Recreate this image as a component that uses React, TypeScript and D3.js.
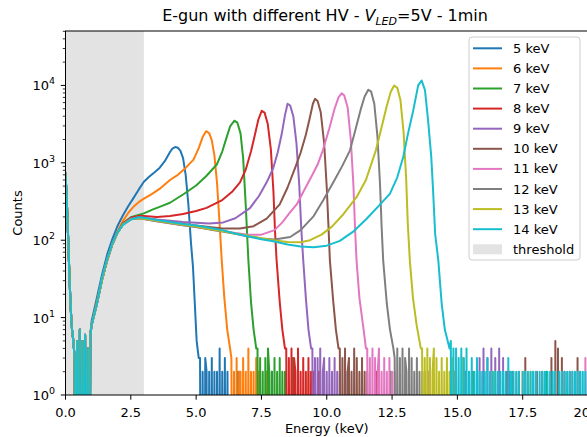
import React from 'react';
import * as d3 from 'd3';

type P = [number, number];

const labels = ['5 keV', '6 keV', '7 keV', '8 keV', '9 keV', '10 keV', '11 keV', '12 keV', '13 keV', '14 keV'];
const colors = ['#1f77b4', '#ff7f0e', '#2ca02c', '#d62728', '#9467bd', '#8c564b', '#e377c2', '#7f7f7f', '#bcbd22', '#17becf'];
const xTicks = [0, 2.5, 5, 7.5, 10, 12.5, 15, 17.5, 20];
const yDecades = [0, 1, 2, 3, 4];
const thresholdRange = [0, 3];

// common detector-noise region (0 - 1 keV)
const lowPart: P[] = [[0, 750], [0.05, 320], [0.1, 110], [0.15, 35], [0.2, 13], [0.25, 7], [0.3, 5], [0.35, 3], [0.4, 0], [0.45, 5], [0.5, 0], [0.55, 7], [0.6, 0], [0.65, 5], [0.7, 0], [0.75, 6], [0.8, 0], [0.85, 4], [0.9, 0], [0.95, 6]];

const bulk5: P[] = [[1.0, 9], [1.2, 18], [1.4, 36], [1.6, 66], [1.8, 105], [2.0, 155], [2.2, 210], [2.4, 275], [2.6, 350], [2.8, 450], [3.0, 570], [3.2, 660], [3.4, 750], [3.6, 860], [3.8, 1050], [4.0, 1380], [4.1, 1540], [4.2, 1600], [4.3, 1570], [4.4, 1430], [4.5, 1150], [4.6, 700], [4.7, 300], [4.8, 95], [4.88, 45], [4.95, 15], [5.02, 5], [5.1, 3]];
const bulk6: P[] = [[1.0, 8], [1.2, 16], [1.4, 32], [1.6, 58], [1.8, 92], [2.0, 132], [2.2, 178], [2.4, 225], [2.6, 270], [2.8, 310], [3.0, 345], [3.3, 395], [3.6, 460], [4.0, 600], [4.3, 700], [4.6, 860], [4.9, 1100], [5.1, 1550], [5.25, 2150], [5.38, 2560], [5.5, 2420], [5.6, 1950], [5.7, 1250], [5.8, 550], [5.9, 160], [5.98, 55], [6.08, 18], [6.19, 7], [6.3, 4]];
const bulk7: P[] = [[1.0, 8], [1.2, 15], [1.4, 31], [1.6, 56], [1.8, 90], [2.0, 128], [2.2, 165], [2.5, 198], [2.8, 212], [3.0, 222], [3.35, 250], [3.7, 278], [4.0, 305], [4.5, 390], [5.0, 510], [5.4, 680], [5.79, 950], [6.0, 1400], [6.17, 2150], [6.3, 2950], [6.46, 3500], [6.58, 3300], [6.7, 2400], [6.8, 1150], [6.9, 280], [7.0, 55], [7.1, 16], [7.2, 7], [7.3, 4]];
const bulk8: P[] = [[1.0, 8], [1.2, 15], [1.4, 31], [1.6, 56], [1.8, 90], [2.0, 128], [2.2, 165], [2.5, 195], [2.8, 205], [3.0, 205], [3.5, 200], [4.0, 205], [4.5, 218], [5.0, 238], [5.4, 262], [6.0, 330], [6.4, 430], [6.68, 560], [6.9, 820], [7.1, 1400], [7.25, 2300], [7.38, 3600], [7.51, 4700], [7.62, 4450], [7.74, 3200], [7.86, 1500], [7.96, 420], [8.02, 130], [8.08, 55], [8.2, 16], [8.3, 7], [8.4, 4]];
const bulk9: P[] = [[1.0, 8], [1.2, 15], [1.4, 31], [1.6, 56], [1.8, 90], [2.0, 126], [2.2, 162], [2.5, 190], [2.8, 198], [3.0, 195], [3.5, 185], [4.0, 178], [4.5, 172], [5.0, 168], [5.5, 165], [6.04, 170], [6.5, 192], [7.06, 260], [7.4, 370], [7.7, 560], [7.95, 850], [8.12, 1350], [8.27, 2300], [8.4, 4100], [8.5, 5800], [8.6, 5500], [8.72, 4000], [8.84, 1800], [8.95, 500], [9.02, 150], [9.1, 55], [9.2, 18], [9.3, 7], [9.4, 4]];
const bulk10: P[] = [[1.0, 8], [1.2, 15], [1.4, 31], [1.6, 56], [1.8, 90], [2.0, 126], [2.2, 160], [2.5, 188], [2.8, 195], [3.0, 190], [3.5, 180], [4.0, 170], [4.5, 162], [5.0, 155], [5.5, 148], [6.0, 142], [6.68, 142], [7.2, 152], [7.7, 190], [8.2, 290], [8.5, 480], [8.8, 880], [9.0, 1350], [9.2, 2300], [9.35, 3800], [9.47, 5800], [9.55, 6700], [9.65, 6300], [9.77, 4500], [9.9, 1800], [10.0, 480], [10.07, 140], [10.12, 55], [10.25, 16], [10.35, 7], [10.45, 4]];
const bulk11: P[] = [[1.0, 8], [1.2, 15], [1.4, 31], [1.6, 56], [1.8, 90], [2.0, 126], [2.2, 160], [2.5, 186], [2.8, 192], [3.0, 188], [3.5, 176], [4.0, 165], [4.5, 156], [5.0, 148], [5.5, 140], [6.0, 132], [6.5, 124], [7.0, 118], [7.5, 118], [8.0, 135], [8.3, 170], [8.6, 230], [8.85, 290], [9.1, 420], [9.4, 650], [9.65, 950], [9.85, 1450], [10.1, 2800], [10.3, 5000], [10.45, 7000], [10.57, 7900], [10.67, 7400], [10.8, 5200], [10.92, 2000], [11.02, 520], [11.08, 150], [11.14, 55], [11.25, 18], [11.4, 7.5], [11.5, 4]];
const bulk12: P[] = [[1.0, 8], [1.2, 15], [1.4, 31], [1.6, 56], [1.8, 90], [2.0, 126], [2.2, 160], [2.5, 186], [2.8, 192], [3.0, 188], [3.5, 176], [4.0, 165], [4.5, 156], [5.0, 148], [5.5, 138], [6.0, 130], [6.5, 121], [7.0, 112], [7.5, 105], [8.0, 102], [8.6, 110], [9.0, 135], [9.5, 205], [9.87, 330], [10.3, 600], [10.6, 920], [10.89, 1450], [11.1, 2700], [11.3, 4900], [11.45, 7200], [11.59, 8800], [11.7, 8300], [11.82, 5800], [11.94, 2200], [12.04, 520], [12.1, 150], [12.16, 55], [12.3, 15], [12.42, 7], [12.55, 4]];
const bulk13: P[] = [[1.0, 8], [1.2, 15], [1.4, 31], [1.6, 56], [1.8, 90], [2.0, 126], [2.2, 160], [2.5, 186], [2.8, 194], [3.0, 190], [3.5, 178], [4.0, 168], [4.5, 158], [5.0, 150], [5.5, 140], [6.0, 131], [6.5, 122], [7.0, 114], [7.5, 106], [8.0, 99], [8.5, 95], [9.0, 94], [9.36, 100], [9.8, 118], [10.2, 150], [10.6, 210], [11.14, 360], [11.5, 600], [11.88, 1450], [12.09, 2800], [12.29, 5300], [12.45, 8300], [12.58, 10000], [12.7, 9300], [12.82, 6500], [12.94, 2500], [13.04, 620], [13.1, 170], [13.18, 55], [13.3, 18], [13.44, 8], [13.6, 4]];
const bulk14: P[] = [[1.0, 8], [1.2, 15], [1.4, 33], [1.6, 58], [1.8, 92], [2.0, 128], [2.2, 158], [2.5, 185], [2.8, 198], [3.0, 195], [3.5, 182], [4.0, 172], [4.5, 162], [5.0, 155], [5.5, 145], [6.0, 135], [6.5, 122], [7.0, 112], [7.5, 103], [8.0, 96], [8.5, 88], [9.0, 83], [9.5, 81], [10.0, 85], [10.5, 98], [11.0, 128], [11.5, 185], [12.0, 280], [12.42, 400], [12.7, 650], [12.93, 1200], [13.1, 2300], [13.31, 4750], [13.5, 10000], [13.63, 11600], [13.76, 8700], [13.88, 3500], [14.0, 1200], [14.07, 440], [14.15, 120], [14.27, 55], [14.4, 15], [14.52, 7], [14.7, 4]];

// noise tails after each drop: counts in 0.05 keV bins starting at tailStart
const tailStarts = [5.15, 6.35, 7.35, 8.45, 9.45, 10.5, 11.55, 12.6, 13.65, 14.75];
const tail5 = [3, 0, 2, 0, 3, 2, 0, 2, 0, 3, 0, 2, 0, 2, 0, 4, 0, 2, 0, 3, 0, 2, 0, 0];
const tail6 = [3, 0, 2, 0, 3, 0, 2, 2, 0, 3, 0, 2, 0, 4, 0, 2, 0, 2, 0, 3, 0, 2, 0, 0];
const tail7 = [4, 0, 3, 0, 2, 0, 3, 0, 4, 2, 0, 2, 0, 3, 0, 2, 0, 3, 0, 2, 0, 2, 0, 0];
const tail8 = [4, 0, 3, 0, 4, 0, 3, 2, 0, 4, 0, 2, 0, 3, 0, 2, 0, 3, 0, 2, 0, 2, 0, 0];
const tail9 = [4, 0, 3, 0, 3, 0, 4, 0, 2, 3, 0, 2, 0, 3, 0, 2, 0, 3, 0, 2, 0, 2, 0, 0];
const tail10 = [4, 0, 3, 0, 4, 0, 2, 3, 0, 2, 0, 4, 0, 3, 0, 2, 0, 3, 0, 2, 0, 2, 0, 0];
const tail11 = [4, 0, 3, 0, 4, 0, 3, 0, 2, 4, 0, 2, 0, 3, 0, 2, 0, 3, 0, 2, 0, 2, 0, 0];
const tail12 = [3, 0, 4, 0, 3, 0, 4, 0, 3, 2, 0, 4, 0, 3, 0, 2, 0, 3, 0, 2, 0, 2, 0, 2];
const tail13 = [4, 0, 3, 0, 4, 0, 3, 0, 2, 4, 0, 3, 0, 2, 0, 3, 0, 2, 0, 3, 0, 2, 0, 3];
const tail14 = [5, 0, 4, 0, 4, 0, 3, 0, 4, 0, 3, 0, 4, 0, 2, 0, 3, 0, 2, 0, 3, 0, 2, 0, 2, 0, 2, 0, 3, 0, 2, 0, 2, 0, 2, 0, 2, 0, 2, 0, 2, 0, 2, 0, 3, 0, 2, 0, 2, 0, 2, 0, 2, 0, 0, 2, 0, 2, 0, 2, 0, 2, 0, 2, 0, 2, 0, 0, 2, 0, 2, 0, 2, 0, 2, 0, 2, 0, 2, 0, 2, 0, 0, 2, 0, 2, 0, 2, 0, 2, 0, 2, 0, 2, 0, 2, 0, 2, 0, 2, 0, 2, 0, 2, 0, 2];

// isolated far counts
const spikes5: P[] = [[6.6, 2], [7.9, 2], [10.8, 2], [15.45, 2], [19.7, 2]];
const spikes6: P[] = [[7.7, 2], [9.3, 2], [14.9, 2], [17.5, 2]];
const spikes7: P[] = [[8.7, 3], [12.45, 2], [15.6, 2], [18.4, 2]];
const spikes8: P[] = [[9.7, 2], [11.9, 2], [16.9, 2], [19.1, 2]];
const spikes9: P[] = [[15.85, 3], [16.0, 4], [16.15, 3], [16.3, 4], [16.45, 3], [16.6, 4], [16.75, 3], [17.0, 2]];
const spikes10: P[] = [[17.35, 2], [17.6, 3], [18.25, 2], [18.6, 3], [18.75, 5], [18.85, 4], [19.0, 3], [19.3, 2], [19.6, 3]];
const spikes11: P[] = [[13.9, 2], [16.3, 2], [17.9, 2], [19.4, 2], [19.9, 3]];
const spikes12: P[] = [[15.3, 2], [17.1, 2], [18.05, 2]];
const spikes13: P[] = [[15.2, 3], [16.4, 2], [17.8, 2], [19.5, 2]];
const spikes14: P[] = [];

const bulks = [bulk5, bulk6, bulk7, bulk8, bulk9, bulk10, bulk11, bulk12, bulk13, bulk14];
const tails = [tail5, tail6, tail7, tail8, tail9, tail10, tail11, tail12, tail13, tail14];
const spikes = [spikes5, spikes6, spikes7, spikes8, spikes9, spikes10, spikes11, spikes12, spikes13, spikes14];

const FONT = 'DejaVu Sans, sans-serif';

export default function App() {
  const W = 587, H = 437;
  const left = 65.5, right = 588, top = 31, bottom = 395;
  const x = d3.scaleLinear().domain([0, 20]).range([left, right]);
  const y = d3.scaleLog().domain([1, 50500]).range([bottom, top]);
  const safe = (v: number) => (v > 0 ? v : 1e-4);
  const line = d3.line<P>().x(d => x(d[0])).y(d => y(safe(d[1])));

  const paths = bulks.map((b, i) => {
    const pts: P[] = [...lowPart, ...b];
    tails[i].forEach((c, k) => pts.push([tailStarts[i] + k * 0.05, c]));
    const last = tailStarts[i] + tails[i].length * 0.05;
    pts.push([last, 0]);
    spikes[i].forEach(([e, c]) => {
      pts.push([e - 0.02, 0]);
      pts.push([e, c]);
      pts.push([e + 0.02, 0]);
    });
    pts.sort((a, b2) => a[0] - b2[0]);
    return line(pts) as string;
  });

  const minor: number[] = [];
  yDecades.forEach(d => {
    for (let k = 2; k <= 9; k++) {
      const v = k * Math.pow(10, d);
      if (v <= 50500) minor.push(v);
    }
  });

  const legendX = 469, legendY = 37, legendW = 111, legendH = 223;
  const rowY = (i: number) => 48.3 + 20.1 * i;

  return (
    <svg width={W} height={H} style={{ position: 'absolute', left: 0, top: 0, background: '#fff' }} fontFamily={FONT}>
      <defs>
        <clipPath id="plotclip">
          <rect x={left} y={top} width={right - left} height={bottom - top} />
        </clipPath>
      </defs>
      <rect x={0} y={0} width={W} height={H} fill="#fff" />
      <rect x={x(thresholdRange[0])} y={top} width={x(thresholdRange[1]) - x(thresholdRange[0])} height={bottom - top} fill="#e3e3e3" />
      <g clipPath="url(#plotclip)">
        {paths.map((p, i) => (
          <path key={i} d={p} fill="none" stroke={colors[i]} strokeWidth={2} strokeLinejoin="round" />
        ))}
      </g>
      <rect x={left} y={top} width={right - left} height={bottom - top} fill="none" stroke="#000" strokeWidth={1} />
      {xTicks.map(t => (
        <g key={t}>
          <line x1={x(t)} x2={x(t)} y1={bottom} y2={bottom + 4.7} stroke="#000" strokeWidth={1} />
          <text x={x(t)} y={416.5} textAnchor="middle" fontSize={13}>{t.toFixed(1)}</text>
        </g>
      ))}
      {yDecades.map(d => (
        <g key={d}>
          <line x1={left - 4.7} x2={left} y1={y(Math.pow(10, d))} y2={y(Math.pow(10, d))} stroke="#000" strokeWidth={1} />
          <text x={55} y={y(Math.pow(10, d)) + 5} textAnchor="end" fontSize={13}>
            10<tspan fontSize={9.5} dy={-6}>{d}</tspan>
          </text>
        </g>
      ))}
      {minor.map(v => (
        <line key={v} x1={left - 2.7} x2={left} y1={y(v)} y2={y(v)} stroke="#000" strokeWidth={0.8} />
      ))}
      <text x={(left + right) / 2} y={433} textAnchor="middle" fontSize={13}>Energy (keV)</text>
      <text transform={`translate(21.5, ${(top + bottom) / 2}) rotate(-90)`} textAnchor="middle" fontSize={13}>Counts</text>
      <text x={325} y={21} textAnchor="middle" fontSize={16}>
        E-gun with different HV - <tspan fontStyle="italic">V</tspan>
        <tspan fontStyle="italic" fontSize={11} dy={4}>LED</tspan>
        <tspan dy={-4}>=5V - 1min</tspan>
      </text>
      <rect x={legendX} y={legendY} width={legendW} height={legendH} rx={3} fill="#fff" fillOpacity={0.8} stroke="#cccccc" strokeWidth={1} />
      {labels.map((l, i) => (
        <g key={l}>
          <line x1={473} x2={502} y1={rowY(i)} y2={rowY(i)} stroke={colors[i]} strokeWidth={2} />
          <text x={513} y={rowY(i) + 4.5} fontSize={13}>{l}</text>
        </g>
      ))}
      <rect x={473} y={rowY(10) - 5} width={29} height={10} fill="#e3e3e3" />
      <text x={513} y={rowY(10) + 4.5} fontSize={13}>threshold</text>
    </svg>
  );
}
